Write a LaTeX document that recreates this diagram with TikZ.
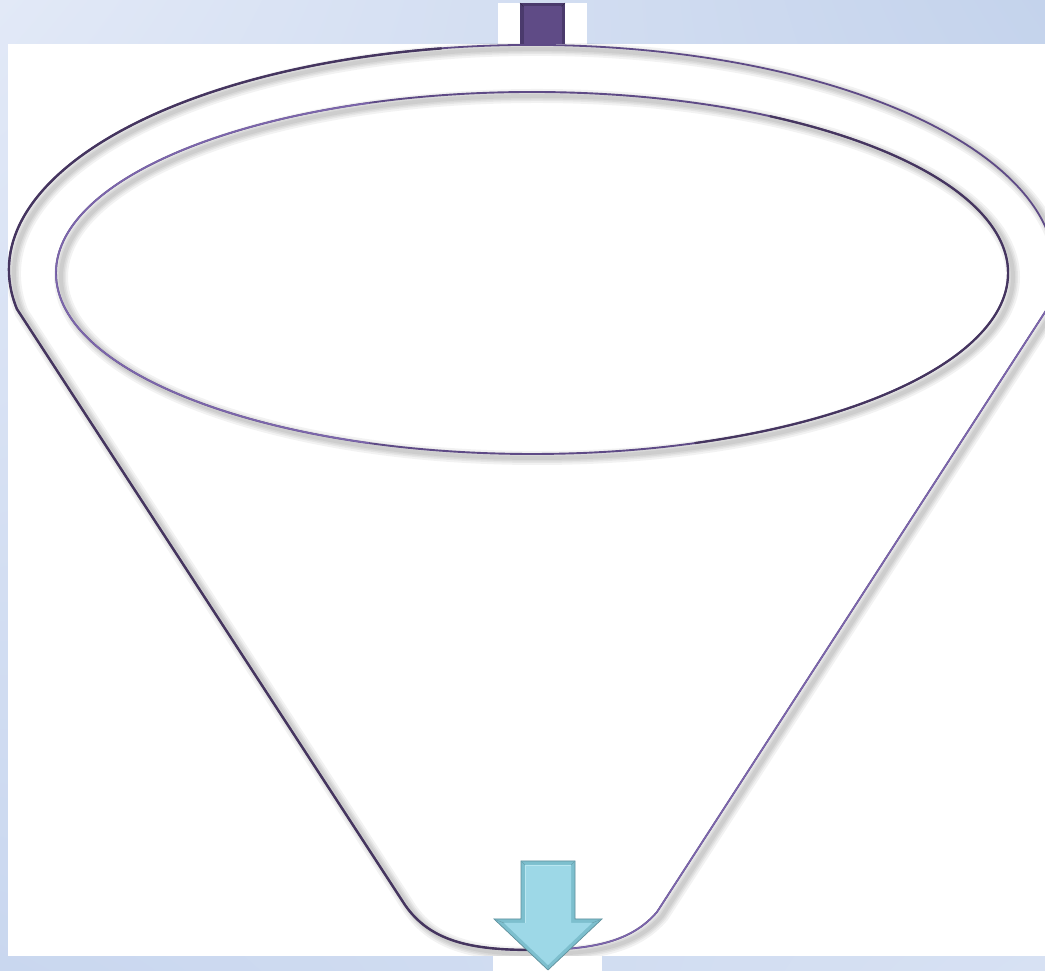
\documentclass[tikz,border=0pt]{standalone}
\usetikzlibrary{calc,shadings}
\definecolor{bgA}{HTML}{E2E9F7}
\definecolor{bgB}{HTML}{C4D3EC}
\definecolor{bgC}{HTML}{C9D7EF}
\definecolor{bgD}{HTML}{D7E1F3}
\definecolor{lineDark}{HTML}{45355F}
\definecolor{lineMid}{HTML}{5E4A86}
\definecolor{lineLight}{HTML}{7C66AC}
\definecolor{boxDark}{HTML}{4A3A6C}
\definecolor{boxFill}{HTML}{5F4B86}
\definecolor{arrEdge}{HTML}{7DBFCE}
\definecolor{arrFill}{HTML}{9DD8E7}
\definecolor{arrHi}{HTML}{B8E6F0}
\newcommand\funnelpath{(1047,662) arc[start angle=-10,end angle=190,x radius=523,y radius=225] -- (405,66) .. controls (430,30) and (470,21) .. (532,21) .. controls (595,21) and (632,30) .. (657,59) -- cycle}
\newcommand\innerpath{(532,698) ellipse[x radius=476,y radius=181]}
\tikzset{
  softshadow/.style={draw=black, line width=#1, opacity=0.05},
  outerline/.style={draw=lineMid, line width=1.8pt},
  darkline/.style={draw=lineDark, line width=2.4pt, line cap=round},
  lightline/.style={draw=lineLight, line width=1.4pt, line cap=round},
  innerline/.style={draw=lineMid, line width=1.9pt},
}
\begin{document}
\begin{tikzpicture}[x=1pt,y=1pt]
\useasboundingbox (0,0) rectangle (1045,971);
% background
\shade[upper left=bgA, upper right=bgB, lower left=bgC, lower right=bgD] (0,0) rectangle (1045,971);
\fill[white] (8,15) rectangle (1045,927);
\fill[white] (498,927) rectangle (587,968);
\fill[white] (493,0) rectangle (602,15);
% soft shadows
\begin{scope}
\clip (8,15) rectangle (1045,927);
\begin{scope}[shift={(5,-4)}]
  \foreach \w in {14,10,7,4} {
    \path[softshadow=\w pt] \funnelpath;
    \path[softshadow=\w pt] \innerpath;
  }
\end{scope}
\end{scope}
% funnel outline
\path[outerline] \funnelpath;
\draw[darkline] (532,701) ++(100:523 and 225) arc[start angle=100,end angle=190,x radius=523,y radius=225]
  -- (405,66) .. controls (430,30) and (470,21) .. (532,21);
\draw[lightline] (532,21) .. controls (595,21) and (632,30) .. (657,59) -- (1047,662);
% inner ellipse
\path[innerline] \innerpath;
\draw[lineLight, line width=1.6pt] (532,698) ++(110:476 and 181) arc[start angle=110,end angle=250,x radius=476,y radius=181];
\draw[lineDark, line width=2.2pt] (532,698) ++(-70:476 and 181) arc[start angle=-70,end angle=60,x radius=476,y radius=181];
% purple block on top
\fill[boxDark] (520,927) rectangle (565,968);
\fill[boxFill] (523.5,927) rectangle (561.5,964.5);
\draw[boxDark!70!black, line width=0.5pt] (520,968) -- (523.5,964.5) (565,968) -- (561.5,964.5);
% cyan arrow at bottom
\coordinate (tip) at (548,1);
\fill[arrEdge] (521,110) -- (575,110) -- (575,52) -- (602,52) -- (tip) -- (494,52) -- (521,52) -- cycle;
\fill[arrFill] (525,106) -- (571,106) -- (571,48) -- (592,48) -- (548,6) -- (504,48) -- (525,48) -- cycle;
\draw[arrHi, line width=0.8pt] (525,48) -- (525,106) -- (571,106);
\draw[arrEdge!75!black, line width=0.7pt] (521,110) -- (575,110) -- (575,52) -- (602,52) -- (tip) -- (494,52) -- (521,52) -- cycle;
\draw[arrEdge!85!black, line width=0.5pt] (521,110) -- (525,106) (575,110) -- (571,106) (602,52) -- (592,48) (494,52) -- (504,48) (tip) -- (548,6);
\end{tikzpicture}
\end{document}
